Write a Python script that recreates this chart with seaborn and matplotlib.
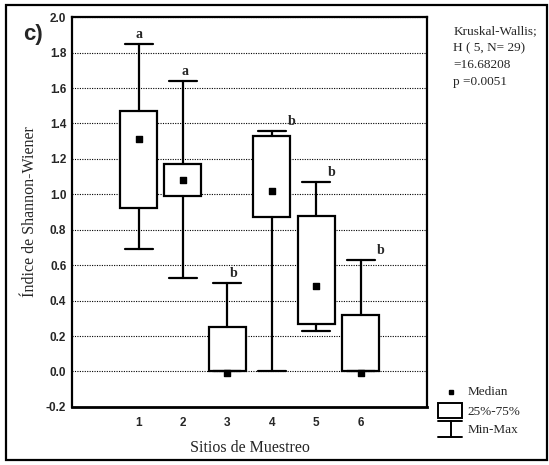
import numpy as np
import matplotlib
matplotlib.use("Agg")
import matplotlib.pyplot as plt
import seaborn as sns
from matplotlib.patches import Rectangle
from matplotlib.lines import Line2D

# data (Shannon-Wiener index per sampling site)
sites = [1, 2, 3, 4, 5, 6]
mins = [0.69, 0.53, 0.00, 0.00, 0.23, 0.00]
q1s = [0.92, 0.99, 0.00, 0.87, 0.27, 0.00]
medians = [1.31, 1.08, -0.01, 1.02, 0.48, -0.01]
q3s = [1.47, 1.17, 0.25, 1.33, 0.88, 0.32]
maxs = [1.85, 1.64, 0.50, 1.36, 1.07, 0.63]
letters = ["a", "a", "b", "b", "b", "b"]
yticks = [-0.2, 0.0, 0.2, 0.4, 0.6, 0.8, 1.0, 1.2, 1.4, 1.6, 1.8, 2.0]
stats_text = "Kruskal-Wallis;\nH ( 5, N= 29)\n=16.68208\np =0.0051"

# layout: horizontal nudge of the group letters
letter_dx = [0.0, 0.05, 0.15, 0.45, 0.35, 0.45]

sns.set_style("white")
plt.rcParams["font.family"] = ["Liberation Serif", "DejaVu Serif"]

fig = plt.figure(figsize=(5.49, 4.65), dpi=100)
ax = fig.add_axes([0.131, 0.125, 0.647, 0.838])

stats = [
    {"med": m, "q1": a, "q3": b, "whislo": lo, "whishi": hi, "label": str(s)}
    for s, lo, a, m, b, hi in zip(sites, mins, q1s, medians, q3s, maxs)
]
ax.bxp(
    stats, positions=sites, widths=0.83, capwidths=0.63,
    showfliers=False, patch_artist=True,
    boxprops=dict(facecolor="white", edgecolor="black", linewidth=1.6),
    whiskerprops=dict(color="black", linewidth=1.6),
    capprops=dict(color="black", linewidth=1.6),
    medianprops=dict(linewidth=0),
    zorder=3,
)
ax.scatter(sites, medians, marker="s", s=14, color="black", zorder=4)

for s, hi, lab, dx in zip(sites, maxs, letters, letter_dx):
    ax.text(s + dx, hi + 0.015, lab, ha="center", va="bottom",
            fontsize=10, fontweight="bold", zorder=5)

ax.set_xlim(-0.5, 7.5)
ax.set_ylim(-0.2, 2.0)
ax.set_xticks(sites)
ax.set_xticklabels([str(s) for s in sites])
ax.set_yticks(yticks)
ax.set_yticklabels([f"{v:.1f}" for v in yticks])
for lab in ax.get_xticklabels() + ax.get_yticklabels():
    lab.set_family(["Liberation Sans", "DejaVu Sans"])
    lab.set_fontweight("bold")
    lab.set_fontsize(8.5)
ax.tick_params(axis="both", length=2, width=0.8, direction="in")
ax.tick_params(axis="y", pad=4)
ax.tick_params(axis="x", pad=7)

ax.yaxis.grid(True, linestyle=(0, (1, 1.2)), color="black", linewidth=0.8, zorder=1)
ax.set_axisbelow(True)
for sp in ax.spines.values():
    sp.set_color("black")
    sp.set_linewidth(1.6)
ax.spines["bottom"].set_linewidth(2.0)

ax.set_ylabel("Índice de Shannon-Wiener", fontsize=11.5, labelpad=6)
ax.set_xlabel("Sitios de Muestreo", fontsize=11.5, labelpad=8)

# panel tag
fig.text(0.06, 0.925, "c)", fontsize=16, fontweight="bold",
         family=["Liberation Sans", "DejaVu Sans"], ha="center", va="center")

# test result
fig.text(0.826, 0.945, stats_text, fontsize=9.5, va="top", ha="left",
         linespacing=1.55)

# legend drawn by hand
fig.add_artist(Line2D([0.8215], [0.157], marker="s", markersize=3.5,
                      color="black", transform=fig.transFigure))
fig.add_artist(Rectangle((0.798, 0.101), 0.044, 0.032, facecolor="white",
                         edgecolor="black", linewidth=1.4, transform=fig.transFigure))
fig.add_artist(Line2D([0.798, 0.842], [0.095, 0.095], color="black",
                      linewidth=1.4, transform=fig.transFigure))
fig.add_artist(Line2D([0.8215, 0.8215], [0.095, 0.060], color="black",
                      linewidth=1.4, transform=fig.transFigure))
fig.add_artist(Line2D([0.798, 0.842], [0.060, 0.060], color="black",
                      linewidth=1.4, transform=fig.transFigure))
fig.text(0.852, 0.157, "Median", fontsize=9.5, va="center")
fig.text(0.852, 0.114, "25%-75%", fontsize=9.5, va="center")
fig.text(0.852, 0.075, "Min-Max", fontsize=9.5, va="center")

# outer frame
fig.add_artist(Rectangle((0.011, 0.011), 0.986, 0.978, fill=False,
                         edgecolor="black", linewidth=1.6, transform=fig.transFigure))

fig.savefig("out.png", dpi=100)
